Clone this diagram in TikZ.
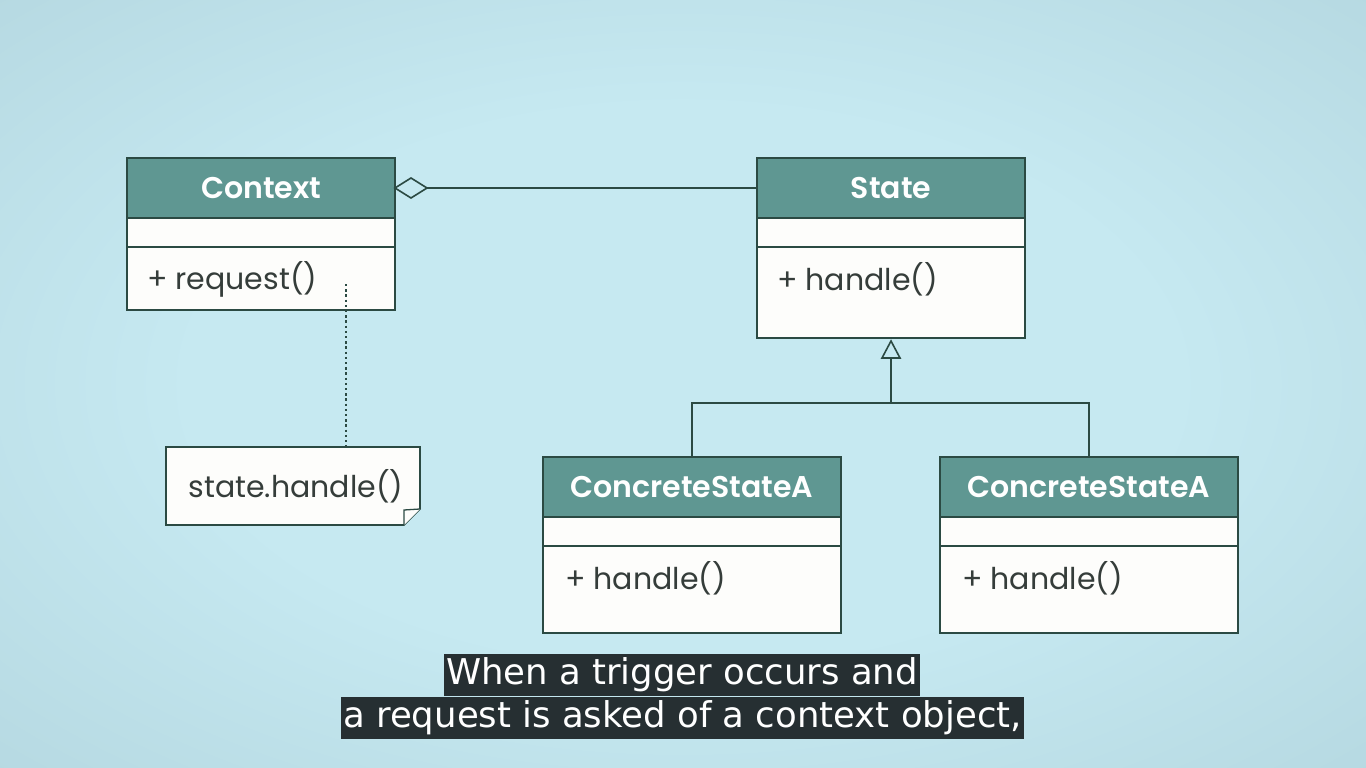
\documentclass[tikz,border=0pt]{standalone}
\usepackage{fontspec}
\setmainfont{Poppins}
\newfontfamily\hdrfont{Poppins SemiBold}
\newfontfamily\subfont{DejaVu Sans}
\usetikzlibrary{calc}
\definecolor{bgin}{HTML}{C6E9F1}
\definecolor{bgmid}{HTML}{B4D7E0}
\definecolor{bgmid2}{HTML}{A4C4CC}
\definecolor{bgout}{HTML}{97B5BD}
\definecolor{hdrfill}{HTML}{5F9792}
\definecolor{bord}{HTML}{2B4A43}
\definecolor{txt}{HTML}{353D3A}
\definecolor{subbg}{HTML}{262F32}
\definecolor{boxfill}{HTML}{FDFDFB}
\pgfdeclareradialshading{bgshade}{\pgfpoint{0bp}{0bp}}{color(0bp)=(bgin); color(18bp)=(bgin); color(38bp)=(bgmid); color(54bp)=(bgmid2); color(72bp)=(bgout)}
\begin{document}
\begin{tikzpicture}[x=1pt,y=-1pt,
  hdr/.style={draw=bord, fill=hdrfill, line width=1.6pt, minimum width=268, minimum height=60,
    inner sep=0, outer sep=0, anchor=north west, text=white, font=\hdrfont\fontsize{30}{34}\selectfont},
  cmp/.style={draw=bord, fill=boxfill, line width=1.6pt, minimum width=268,
    inner sep=0, outer sep=0, anchor=north west},
  wide/.style={minimum width=298},
  mtxt/.style={anchor=west, inner sep=0, text=txt, font=\fontsize{30}{34}\selectfont},
  conn/.style={draw=bord, line width=1.6pt},
  sub/.style={fill=subbg, text=white, inner xsep=2, inner ysep=0, minimum height=42,
    font=\subfont\fontsize{35.5}{40}\selectfont}
]
\useasboundingbox (0,0) rectangle (1366,768);
\shade[shading=bgshade] (0,0) rectangle (1366,768);

% Context
\node[hdr] (ctxH) at (127,158) {Context};
\node[cmp, minimum height=29] (ctxA) at (ctxH.south west) {};
\node[cmp, minimum height=63] (ctxM) at (ctxA.south west) {};
\node[mtxt] (ctxT) at (147,279) {+ request()};

% State
\node[hdr] (stH) at (757,158) {State};
\node[cmp, minimum height=29] (stA) at (stH.south west) {};
\node[cmp, minimum height=91] (stM) at (stA.south west) {};
\node[mtxt] (stT) at (777,279) {+ handle()};

% ConcreteStateA (left)
\node[hdr, wide] (caH) at (543,457) {ConcreteStateA};
\node[cmp, wide, minimum height=29] (caA) at (caH.south west) {};
\node[cmp, wide, minimum height=87] (caM) at (caA.south west) {};
\node[mtxt] (caT) at (565,578) {+ handle()};

% ConcreteStateA (right)
\node[hdr, wide] (cbH) at (940,457) {ConcreteStateA};
\node[cmp, wide, minimum height=29] (cbA) at (cbH.south west) {};
\node[cmp, wide, minimum height=87] (cbM) at (cbA.south west) {};
\node[mtxt] (cbT) at (962,578) {+ handle()};

% Note
\node[minimum width=254, minimum height=78, inner sep=0, outer sep=0, anchor=north west] (note) at (166,447) {};
\draw[conn, fill=boxfill, line join=miter]
  (note.north west) -- (note.north east) -- ($(note.south east)+(0,-16)$)
  -- ($(note.south east)+(-16,0)$) -- (note.south west) -- cycle;
\draw[conn, line width=1.3pt, fill=boxfill] ($(note.south east)+(-16,0)$) -- ($(note.south east)+(-16,-15)$) -- ($(note.south east)+(0,-16)$);
\node[mtxt, anchor=center] (noteT) at ($(note.center)+(3,0)$) {state.handle()};

% dotted note link
\coordinate (dotTop) at (346,284);
\draw[draw=bord, line width=2pt, dash pattern=on 2.4pt off 2.8pt] (dotTop) -- (dotTop |- note.north);

% aggregation
\coordinate (diaR) at ($(ctxH.east)+(32,0)$);
\draw[conn] (diaR) -- (stH.west |- ctxH.east);
\draw[conn, fill=bgin, line join=miter] (ctxH.east) -- ($(ctxH.east)+(16,-10)$) -- (diaR) -- ($(ctxH.east)+(16,10)$) -- cycle;

% inheritance
\coordinate (triTip) at ($(stM.south)+(0,3)$);
\coordinate (triBase) at ($(stM.south)+(0,20)$);
\coordinate (bus) at ($(stM.south)+(0,65)$);
\draw[conn] (triBase) -- (bus);
\draw[conn] (caH.north) -- (caH.north |- bus) -- (cbH.north |- bus) -- (cbH.north);
\draw[conn, fill=bgin, line join=miter] (triTip) -- ($(triBase)+(-9,0)$) -- ($(triBase)+(9,0)$) -- cycle;

% subtitles
\node[sub] (sub1) at (682,675) {When a trigger occurs and};
\node[sub] (sub2) at (682.5,718) {a request is asked of a context object,};
\end{tikzpicture}
\end{document}
